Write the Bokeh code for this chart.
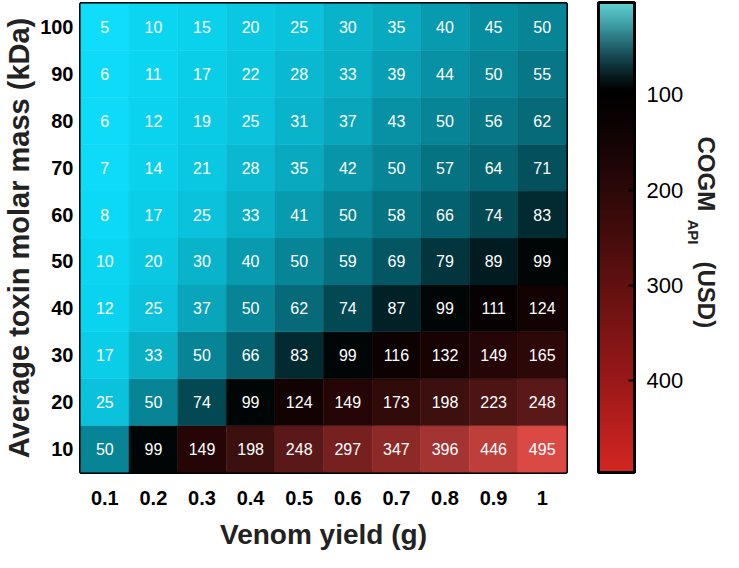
import math
import numpy as np
from bokeh.plotting import figure
from bokeh.layouts import row
from bokeh.models import (ColumnDataSource, LinearColorMapper, ColorBar,
                          FixedTicker, Label)
from bokeh.core.properties import value
from bokeh.embed import file_html
from bokeh.resources import INLINE

# ---------------- data ----------------
venom_yield = ["0.1", "0.2", "0.3", "0.4", "0.5", "0.6", "0.7", "0.8", "0.9", "1"]
molar_mass = ["10", "20", "30", "40", "50", "60", "70", "80", "90", "100"]

cogm_10 = [50, 99, 149, 198, 248, 297, 347, 396, 446, 495]
cogm_20 = [25, 50, 74, 99, 124, 149, 173, 198, 223, 248]
cogm_30 = [17, 33, 50, 66, 83, 99, 116, 132, 149, 165]
cogm_40 = [12, 25, 37, 50, 62, 74, 87, 99, 111, 124]
cogm_50 = [10, 20, 30, 40, 50, 59, 69, 79, 89, 99]
cogm_60 = [8, 17, 25, 33, 41, 50, 58, 66, 74, 83]
cogm_70 = [7, 14, 21, 28, 35, 42, 50, 57, 64, 71]
cogm_80 = [6, 12, 19, 25, 31, 37, 43, 50, 56, 62]
cogm_90 = [6, 11, 17, 22, 28, 33, 39, 44, 50, 55]
cogm_100 = [5, 10, 15, 20, 25, 30, 35, 40, 45, 50]
cogm_rows = [cogm_10, cogm_20, cogm_30, cogm_40, cogm_50,
             cogm_60, cogm_70, cogm_80, cogm_90, cogm_100]

colorbar_ticks = [100, 200, 300, 400]

# ---------------- colour scales ----------------
def build_palette(anchors, lo, hi, n=256):
    vals = np.array([a[0] for a in anchors], dtype=float)
    rgb = np.array([[int(a[1][i:i + 2], 16) for i in (1, 3, 5)] for a in anchors], dtype=float)
    xs = np.linspace(lo, hi, n)
    out = []
    for x in xs:
        c = [int(round(np.interp(x, vals, rgb[:, k]))) for k in range(3)]
        out.append("#%02x%02x%02x" % tuple(c))
    return out

cell_anchors = [(0, "#14E2FF"), (10, "#0AD6F2"), (25, "#0AC0D8"), (40, "#0898AC"),
                (50, "#078294"), (60, "#066C7A"), (70, "#04525E"), (80, "#023038"),
                (90, "#01181C"), (100, "#000000"), (150, "#260505"), (200, "#3E1010"),
                (250, "#5C1A18"), (300, "#77211F"), (350, "#8E2B28"), (400, "#A53532"),
                (450, "#C03F3B"), (500, "#DC4A45")]
cell_palette = build_palette(cell_anchors, 0, 500)
cell_mapper = LinearColorMapper(palette=cell_palette, low=0, high=500)

cb_anchors = [(3, "#60D0D0"), (20, "#46AAB0"), (40, "#2A7880"), (60, "#154650"),
              (80, "#061A1E"), (95, "#000000"), (150, "#140404"), (200, "#2C0808"),
              (300, "#621010"), (400, "#9A1818"), (496, "#D42622")]
cb_palette = build_palette(cb_anchors, 3, 496)[::-1]
cb_mapper = LinearColorMapper(palette=cb_palette, low=496, high=3)

# ---------------- source ----------------
xs, ys, vs, labels = [], [], [], []
for mass, row_vals in zip(molar_mass, cogm_rows):
    for vy, v in zip(venom_yield, row_vals):
        xs.append(vy)
        ys.append(mass)
        vs.append(v)
        labels.append(str(v))
src = ColumnDataSource(dict(x=xs, y=ys, v=vs, label=labels))

FONT = "Liberation Sans"

# ---------------- heatmap ----------------
p = figure(x_range=venom_yield, y_range=molar_mass, width=569, height=552,
           output_backend="svg", toolbar_location=None,
           min_border_left=80, min_border_right=3, min_border_top=3,
           min_border_bottom=79)

p.rect(x="x", y="y", width=1, height=1, source=src,
       fill_color={"field": "v", "transform": cell_mapper},
       line_color={"field": "v", "transform": cell_mapper}, line_width=0.5)
p.text(x="x", y="y", text="label", source=src, text_color="white",
       text_font=value(FONT), text_font_size="16px",
       text_align="center", text_baseline="middle")

p.outline_line_color = "black"
p.outline_line_width = 3
p.grid.grid_line_color = None
p.axis.axis_line_color = None
p.axis.major_tick_line_color = None
p.axis.minor_tick_line_color = None
p.axis.major_tick_out = 0
p.axis.major_tick_in = 0
p.axis.minor_tick_out = 0
p.axis.minor_tick_in = 0
p.axis.major_label_text_font = FONT
p.axis.major_label_text_font_style = "bold"
p.axis.major_label_text_font_size = "20px"
p.axis.major_label_text_color = "black"
p.axis.axis_label_text_font = FONT
p.axis.axis_label_text_font_style = "bold"
p.axis.axis_label_text_color = "#222222"

p.xaxis.axis_label = "Venom yield (g)"
p.xaxis.axis_label_text_font_size = "28px"
p.xaxis.major_label_standoff = 18
p.xaxis.axis_label_standoff = 11

p.yaxis.axis_label = "Average toxin molar mass (kDa)"
p.yaxis.axis_label_text_font_size = "29px"
p.yaxis.major_label_standoff = 7
p.yaxis.axis_label_standoff = 2

# ---------------- colour bar panel ----------------
p2 = figure(width=154, height=552, x_range=(0, 1), y_range=(0, 1),
            output_backend="svg", toolbar_location=None,
            x_axis_location=None, y_axis_location=None,
            min_border_left=0, min_border_right=0, min_border_top=3,
            min_border_bottom=79)
p2.outline_line_color = None
p2.grid.grid_line_color = None

cb = ColorBar(color_mapper=cb_mapper, location=(29, 0), width=36, height=470,
              padding=0, margin=0, ticker=FixedTicker(ticks=colorbar_ticks),
              major_label_text_font=FONT, major_label_text_font_size="22px",
              major_label_text_color="black", label_standoff=12,
              major_tick_in=6, major_tick_out=0, major_tick_line_color="black",
              major_tick_line_width=2, minor_tick_line_color=None,
              bar_line_color="black", bar_line_width=3,
              border_line_color=None, background_fill_color=None)
p2.add_layout(cb)

title_parts = [("COGM", 137, 336, "24px"), ("API", 124, 253, "15px"),
               ("(USD)", 137, 211, "24px")]
for txt, lx, ly, fs in title_parts:
    p2.add_layout(Label(x=lx, y=ly, x_units="screen", y_units="screen", text=txt,
                        angle=-math.pi / 2, text_font=FONT, text_font_size=fs,
                        text_font_style="bold", text_align="left",
                        text_baseline="middle", text_color="#222222"))

layout = row(p, p2)
open("out.html", "w").write(file_html(layout, INLINE))
